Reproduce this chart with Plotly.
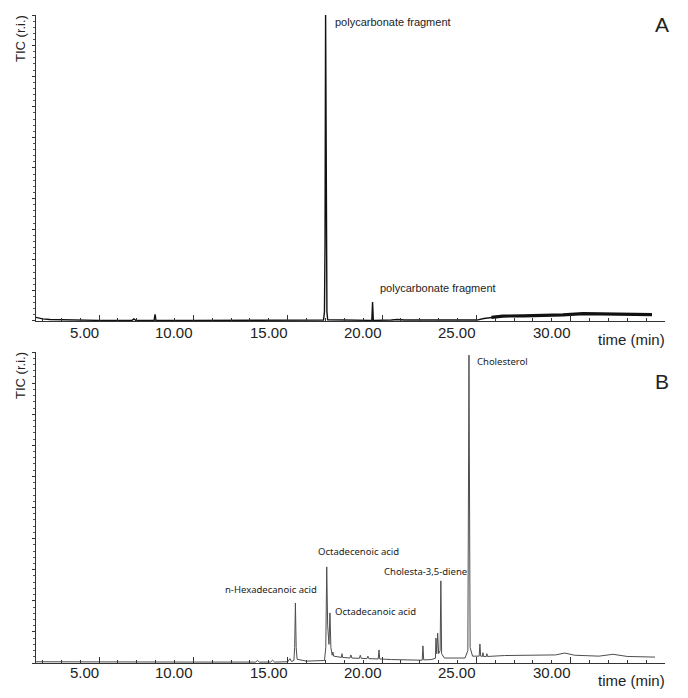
import plotly.graph_objects as go

# ---------------- data ----------------
# Panel A : retention time (min) and relative TIC
time_a = [1.66, 1.8, 2.0, 2.4, 3.0, 4.0, 5.0,
          6.75, 6.85, 6.95, 7.92, 7.97, 8.02,
          10.0, 12.5, 14.5,
          16.9, 16.95, 16.98, 17.01, 17.04, 17.08, 17.12,
          19.46, 19.50, 19.54,
          20.5, 20.8, 21.2, 23.0,
          25.03, 25.4, 25.8, 26.41,
          27.5, 28.5, 29.59, 30.65, 31.5, 32.5, 33.5, 34.31]
tic_a = [0.012, 0.009, 0.007, 0.005, 0.004, 0.003, 0.002,
         0.002, 0.007, 0.002, 0.002, 0.022, 0.002,
         0.002, 0.003, 0.002,
         0.003, 0.03, 0.25, 1.0, 0.25, 0.03, 0.004,
         0.002, 0.062, 0.002,
         0.003, 0.005, 0.003, 0.002,
         0.003, 0.008, 0.012, 0.016,
         0.017, 0.018, 0.02, 0.024, 0.023, 0.022, 0.022, 0.021]

# Panel B
time_b = [1.66, 5.0, 10.0, 13.3, 13.4, 13.5, 14.1, 14.2, 14.3, 15.0,
          15.12, 15.2, 15.33, 15.37, 15.41, 15.45, 15.5, 16.0,
          16.95, 17.02, 17.07, 17.12, 17.19, 17.24, 17.29, 17.36, 17.40, 17.44,
          17.6, 17.85, 17.88, 17.91, 18.3, 18.35, 18.4, 18.8, 18.85, 18.9,
          19.2, 19.25, 19.3, 19.5, 19.8, 19.84, 19.88, 20.5, 21.5,
          22.13, 22.17, 22.21, 22.6, 22.83, 22.86, 22.9, 22.95, 23.0, 23.08,
          23.12, 23.16, 23.3, 24.4, 24.55, 24.61, 24.67, 24.8,
          25.15, 25.19, 25.23, 25.32, 25.35, 25.38, 25.53, 25.56, 25.59,
          26.5, 28.0, 29.2, 29.69, 30.2, 31.5, 32.24, 33.0, 34.47]
tic_b = [0.004, 0.003, 0.003, 0.003, 0.008, 0.003, 0.003, 0.009, 0.003, 0.004,
         0.014, 0.005, 0.008, 0.05, 0.193, 0.05, 0.012, 0.006,
         0.008, 0.05, 0.309, 0.12, 0.06, 0.161, 0.05, 0.025, 0.035, 0.022,
         0.02, 0.018, 0.03, 0.018, 0.016, 0.026, 0.016, 0.015, 0.025, 0.015,
         0.014, 0.022, 0.014, 0.013, 0.013, 0.042, 0.013, 0.011, 0.009,
         0.009, 0.055, 0.01, 0.011, 0.015, 0.08, 0.03, 0.096, 0.03, 0.04,
         0.264, 0.03, 0.016, 0.016, 0.04, 0.99, 0.05, 0.022,
         0.022, 0.061, 0.022, 0.021, 0.033, 0.021, 0.021, 0.03, 0.021,
         0.024, 0.026, 0.026, 0.032, 0.025, 0.022, 0.028, 0.021, 0.019]

tick_vals = [5, 10, 15, 20, 25, 30]
tick_labels = ["5.00", "10.00", "15.00", "20.00", "25.00", "30.00"]

# peak labels: (text, time of label's left edge, relative height)
labels_a = [("polycarbonate fragment", 17.40, 0.977),
            ("polycarbonate fragment", 19.79, 0.108)]
labels_b = [("Cholesterol", 24.93, 0.968),
            ("Octadecenoic acid", 16.50, 0.357),
            ("Cholesta-3,5-diene", 20.00, 0.293),
            ("n-Hexadecanoic acid", 11.57, 0.235),
            ("Octadecanoic acid", 17.40, 0.167)]

# ---------------- figure ----------------
fig = go.Figure()
fig.add_trace(go.Scatter(x=time_a, y=tic_a, mode="lines", xaxis="x", yaxis="y",
                         line=dict(color="#111111", width=1.4), hoverinfo="skip"))
# noisy baseline portion drawn as a thicker band
band_t = [t for t in time_a if t >= 25.8]
band_v = [v for t, v in zip(time_a, tic_a) if t >= 25.8]
fig.add_trace(go.Scatter(x=band_t, y=band_v, mode="lines", xaxis="x", yaxis="y",
                         line=dict(color="#111111", width=3.2), hoverinfo="skip"))
fig.add_trace(go.Scatter(x=time_b, y=tic_b, mode="lines", xaxis="x2", yaxis="y2",
                         line=dict(color="#4d4d4d", width=1.0), hoverinfo="skip"))

xcommon = dict(range=[1.66, 35.0], showline=True, linecolor="#333333", linewidth=1,
               showgrid=False, zeroline=False, ticks="inside", ticklen=6,
               tickcolor="#333333", tickvals=tick_vals + [35], showticklabels=False,
               minor=dict(dtick=1, tick0=0, ticks="inside", ticklen=3, tickcolor="#333333"))
ycommon = dict(range=[0, 1.0], showline=True, linecolor="#333333", linewidth=1,
               showgrid=False, zeroline=False, ticks="outside", ticklen=3,
               tickcolor="#333333", dtick=0.1, showticklabels=False,
               minor=dict(dtick=0.02, ticks="outside", ticklen=2, tickcolor="#555555"))

fig.update_layout(
    width=688, height=698,
    margin=dict(l=36, r=23, t=15, b=35),
    paper_bgcolor="white", plot_bgcolor="white",
    showlegend=False,
    xaxis=dict(**xcommon, anchor="y"),
    yaxis=dict(**ycommon, domain=[0.5278, 1.0], anchor="x"),
    xaxis2=dict(**xcommon, anchor="y2"),
    yaxis2=dict(**ycommon, domain=[0.0, 0.4799], anchor="x2"),
)

ann = []
tick_font = dict(family="Liberation Sans, Arial, sans-serif", size=15, color="#222222")
for xr, ypaper in (("x", 0.5108), ("x2", -0.0154)):
    for v, lab in zip(tick_vals, tick_labels):
        ann.append(dict(text=lab, x=v, xref=xr, y=ypaper, yref="paper",
                        xanchor="right", yanchor="middle", xshift=2,
                        showarrow=False, font=tick_font))
for ypaper in (0.4985, -0.027):
    ann.append(dict(text="time (min)", x=1.003, xref="paper", y=ypaper, yref="paper",
                    xanchor="right", yanchor="middle", showarrow=False, font=tick_font))
for ypaper in (0.963, 0.443):
    ann.append(dict(text="TIC (r.i.)", x=-0.0238, xref="paper", y=ypaper, yref="paper",
                    xanchor="center", yanchor="middle", textangle=-90, showarrow=False,
                    font=dict(family="Liberation Sans, Arial, sans-serif", size=13, color="#222222")))
for txt, ypaper in (("A", 0.9846), ("B", 0.435)):
    ann.append(dict(text=txt, x=0.995, xref="paper", y=ypaper, yref="paper",
                    xanchor="center", yanchor="middle", showarrow=False,
                    font=dict(family="Liberation Sans, Arial, sans-serif", size=21, color="#222222")))
for txt, t, v in labels_a:
    ann.append(dict(text=txt, x=t, xref="x", y=v, yref="y", xanchor="left", yanchor="middle",
                    showarrow=False,
                    font=dict(family="Liberation Sans, Arial, sans-serif", size=11, color="#222222")))
for txt, t, v in labels_b:
    ann.append(dict(text=txt, x=t, xref="x2", y=v, yref="y2", xanchor="left", yanchor="middle",
                    showarrow=False,
                    font=dict(family="Noto Sans, sans-serif", size=9.5, color="#222222")))
fig.update_layout(annotations=ann)

fig.write_html("out.html", config={"displayModeBar": False},
               post_script="document.body.style.margin='0';document.body.style.padding='0';")
